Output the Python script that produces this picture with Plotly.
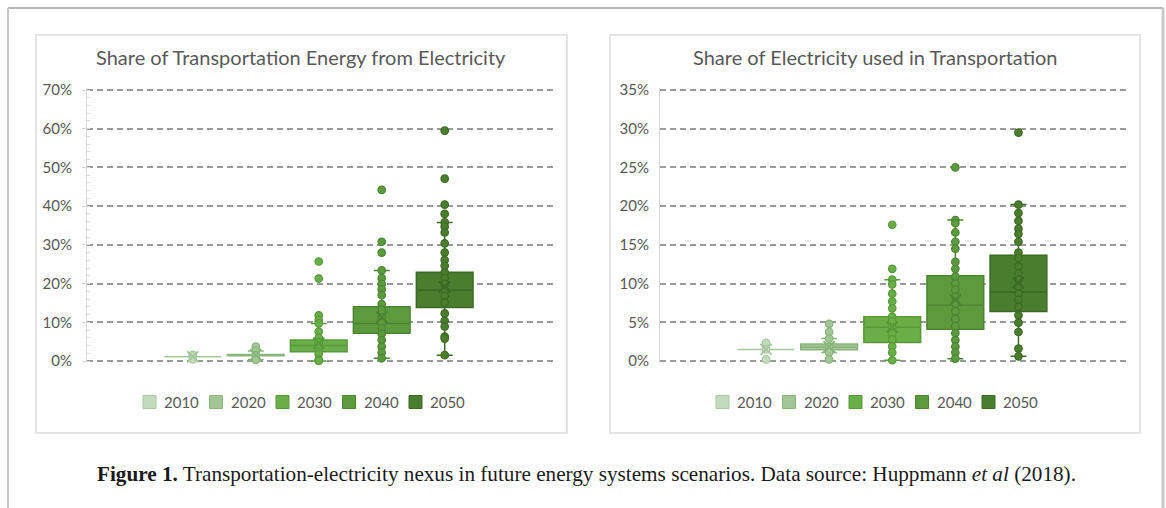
import plotly.graph_objects as go

years = ["2010", "2020", "2030", "2040", "2050"]
fill_colors = ["#c3dbbc", "#a2c696", "#6aae48", "#5c9a3e", "#4a7d2d"]
edge_colors = ["#a8c79f", "#89b47b", "#58993a", "#4b8532", "#3d6a24"]

# Share of transportation energy from electricity, % (left panel)
energy_lower = [1.1, 0.3, 0.0, 0.7, 1.5]
energy_q1 = [1.1, 1.35, 2.4, 7.2, 13.8]
energy_median = [1.1, 1.5, 4.0, 9.7, 18.3]
energy_q3 = [1.1, 1.65, 5.4, 14.0, 22.9]
energy_upper = [1.1, 2.6, 9.7, 23.4, 35.8]
energy_mean = [1.1, 1.6, 4.6, 11.3, 19.2]
energy_points = [
    [1.6, 1.1, 0.4],
    [3.7, 2.6, 1.5, 0.3],
    [25.7, 21.3, 11.8, 10.6, 9.7, 7.6, 6.0, 4.8, 3.5, 2.4, 1.8, 0.4, 0.0],
    [44.2, 30.8, 28.0, 23.4, 21.4, 19.9, 18.5, 17.0, 14.7, 13.2, 11.3, 9.9,
     8.4, 7.0, 5.4, 3.7, 2.2, 0.7],
    [59.5, 47.1, 40.4, 38.0, 35.8, 34.7, 33.2, 30.4, 28.0, 26.1, 24.6, 22.9,
     21.4, 19.9, 18.3, 16.8, 15.1, 12.3, 10.4, 8.9, 6.3, 5.8, 1.5],
]

# Share of electricity used in transportation, % (right panel)
elec_lower = [1.5, 1.1, 0.1, 0.3, 0.6]
elec_q1 = [1.5, 1.45, 2.4, 4.1, 6.4]
elec_median = [1.5, 1.8, 4.35, 7.2, 8.9]
elec_q3 = [1.5, 2.2, 5.7, 11.0, 13.65]
elec_upper = [1.5, 2.9, 10.5, 18.2, 20.2]
elec_mean = [1.5, 1.85, 4.4, 7.9, 10.1]
elec_points = [
    [2.35, 1.5, 0.2],
    [4.8, 3.75, 2.9, 1.85, 1.1, 0.2],
    [17.6, 11.9, 10.5, 9.9, 8.7, 7.7, 6.8, 5.7, 5.1, 4.35, 3.6, 2.8, 1.9,
     1.1, 0.1],
    [25.0, 18.2, 17.8, 16.6, 15.4, 14.5, 12.8, 11.9, 10.9, 10.0, 9.2, 8.3,
     7.45, 6.4, 5.4, 4.5, 3.6, 2.7, 1.85, 1.1, 0.3],
    [29.5, 20.2, 19.1, 18.1, 17.1, 16.4, 15.4, 14.0, 13.3, 12.2, 11.3, 10.5,
     9.6, 8.7, 7.9, 7.0, 5.9, 4.95, 3.75, 1.6, 0.6],
]

titles = ["Share of Transportation Energy from Electricity",
          "Share of Electricity used in Transportation"]
caption = ("<b>Figure 1.</b> Transportation-electricity nexus in future energy "
           "systems scenarios. Data source: Huppmann <i>et al</i> (2018).")

W, H = 1166, 508
TXT = "#595959"
SANS = "Lato, 'Open Sans', sans-serif"


def px_x(v):
    return v / W


def px_y(v):
    return 1 - v / H


fig = go.Figure()

panels = [
    dict(lower=energy_lower, q1=energy_q1, med=energy_median, q3=energy_q3,
         upper=energy_upper, mean=energy_mean, pts=energy_points,
         xa="x", ya="y", legend_left=143),
    dict(lower=elec_lower, q1=elec_q1, med=elec_median, q3=elec_q3,
         upper=elec_upper, mean=elec_mean, pts=elec_points,
         xa="x2", ya="y2", legend_left=716),
]

for p in panels:
    for i, yr in enumerate(years):
        pos = i + 1
        fig.add_trace(go.Box(
            x=[pos], q1=[p["q1"][i]], median=[p["med"][i]], q3=[p["q3"][i]],
            lowerfence=[p["lower"][i]], upperfence=[p["upper"][i]],
            width=0.9, whiskerwidth=0.28, boxpoints=False,
            fillcolor=fill_colors[i],
            line=dict(color=edge_colors[i], width=1.5),
            name=yr, showlegend=False, xaxis=p["xa"], yaxis=p["ya"],
            hoverinfo="skip",
        ))
    for i, yr in enumerate(years):
        pos = i + 1
        fig.add_trace(go.Scatter(
            x=[pos] * len(p["pts"][i]), y=p["pts"][i], mode="markers",
            marker=dict(symbol="circle", size=7.5, color=fill_colors[i],
                        line=dict(color=edge_colors[i], width=1.2)),
            showlegend=False, cliponaxis=False,
            xaxis=p["xa"], yaxis=p["ya"], hoverinfo="skip",
        ))
        fig.add_trace(go.Scatter(
            x=[pos], y=[p["mean"][i]], mode="markers",
            marker=dict(symbol="x-thin", size=11,
                        line=dict(color=edge_colors[i], width=2)),
            showlegend=False, cliponaxis=False,
            xaxis=p["xa"], yaxis=p["ya"], hoverinfo="skip",
        ))

# plot areas run 2px past the 0% and top gridlines so those lines are kept
PAD = 2
Y_TOP, Y_ZERO = 90, 361
ydom = [px_y(Y_ZERO + PAD), px_y(Y_TOP - PAD)]


def padded(top):
    u = PAD * top / (Y_ZERO - Y_TOP)
    return [-u, top + u]


xcommon = dict(range=[-0.68, 6.72], showgrid=False, zeroline=False,
               showticklabels=False, ticks="", showline=False,
               fixedrange=True, automargin=False)
ycommon = dict(domain=ydom, showgrid=True, gridcolor="#9a9a9a", gridwidth=1.6,
               griddash="6px,4px", zeroline=False, ticksuffix="%",
               tickfont=dict(family=SANS, size=15, color=TXT),
               showline=True, linecolor="#d9d9d9", linewidth=1,
               ticklabelstandoff=7, fixedrange=True, automargin=False)

fig.update_layout(
    width=W, height=H, autosize=False,
    margin=dict(l=0, r=0, t=0, b=0, pad=0, autoexpand=False),
    paper_bgcolor="white", plot_bgcolor="rgba(0,0,0,0)",
    showlegend=False,
    xaxis=dict(domain=[px_x(87), px_x(553)], anchor="y", **xcommon),
    xaxis2=dict(domain=[px_x(660), px_x(1127)], anchor="y2", **xcommon),
    yaxis=dict(anchor="x", range=padded(70), tick0=0, dtick=10,
               ticks="outside", ticklen=4, tickcolor="#d9d9d9",
               minor=dict(ticks="inside", ticklen=3, tick0=0, dtick=2,
                          tickcolor="#d9d9d9"),
               **ycommon),
    yaxis2=dict(anchor="x2", range=padded(35), tick0=0, dtick=5,
                ticks="", **ycommon),
)

# outer frame and the two chart panels
shapes = [
    dict(type="line", x0=px_x(8), x1=px_x(1163), y0=px_y(8), y1=px_y(8),
         line=dict(color="#a0a0a0", width=1.5)),
    dict(type="line", x0=px_x(8), x1=px_x(8), y0=px_y(8), y1=0,
         line=dict(color="#c8c8c8", width=2)),
    dict(type="line", x0=px_x(1163), x1=px_x(1163), y0=px_y(8), y1=0,
         line=dict(color="#c8c8c8", width=3)),
    dict(type="rect", x0=px_x(36), x1=px_x(567), y0=px_y(433), y1=px_y(35),
         line=dict(color="#dcdcdc", width=1.5), fillcolor="white",
         layer="below"),
    dict(type="rect", x0=px_x(610), x1=px_x(1140), y0=px_y(433), y1=px_y(35),
         line=dict(color="#dcdcdc", width=1.5), fillcolor="white",
         layer="below"),
]

# legend rows: a swatch and a year label per series
LEG_Y, LEG_STEP, SW = 402, 66.5, 13
for p in panels:
    for i, yr in enumerate(years):
        x0 = p["legend_left"] + i * LEG_STEP
        shapes.append(dict(type="rect", x0=px_x(x0), x1=px_x(x0 + SW),
                           y0=px_y(LEG_Y + SW / 2), y1=px_y(LEG_Y - SW / 2),
                           line=dict(color=edge_colors[i], width=1),
                           fillcolor=fill_colors[i]))
        fig.add_annotation(x=px_x(x0 + SW + 6), y=px_y(LEG_Y), xref="paper",
                           yref="paper", text=yr, showarrow=False,
                           xanchor="left", yanchor="middle",
                           font=dict(family=SANS, size=15, color=TXT))

for s in shapes:
    s.update(xref="paper", yref="paper")
    s.setdefault("layer", "above")
    fig.add_shape(**s)

for cx, t in zip([301, 875], titles):
    fig.add_annotation(x=px_x(cx), y=px_y(57), xref="paper", yref="paper",
                       text=t, showarrow=False, xanchor="center",
                       yanchor="middle",
                       font=dict(family=SANS, size=20, color=TXT))

fig.add_annotation(x=px_x(587), y=px_y(474), xref="paper", yref="paper",
                   text=caption, showarrow=False, xanchor="center",
                   yanchor="middle",
                   font=dict(family="'Liberation Serif', serif", size=21.2,
                             color="#1a1a1a"))

fig.write_html("out.html")
